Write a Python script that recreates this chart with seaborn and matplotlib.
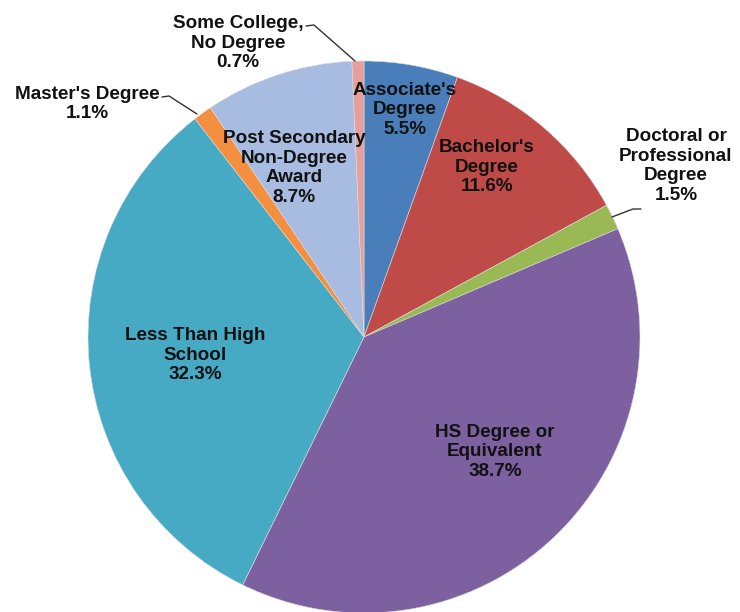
import matplotlib
matplotlib.use("Agg")
import matplotlib.pyplot as plt
import seaborn as sns

sns.set_theme(style="white")
plt.rcParams['font.family'] = ['Liberation Sans', 'DejaVu Sans']

# Data (clockwise from 12 o'clock)
categories = ["Associate's\nDegree", "Bachelor's\nDegree", "Doctoral or\nProfessional\nDegree",
              "HS Degree or\nEquivalent", "Less Than High\nSchool", "Master's Degree",
              "Post Secondary\nNon-Degree\nAward", "Some College,\nNo Degree"]
shares = [5.5, 11.6, 1.5, 38.7, 32.3, 1.1, 8.7, 0.7]
colors = ["#4A7EBB", "#BE4B48", "#98B954", "#7D60A0", "#46AAC5", "#F38F3F", "#A8BBE0", "#E5A09E"]

W, H = 740, 612
fig = plt.figure(figsize=(W / 100, H / 100), dpi=100)
ax = fig.add_axes([0, 0, 1, 1])

cx, cy, r = 364, H - 337, 276
ax.pie(shares, colors=colors, startangle=90, counterclock=False,
       center=(cx, cy), radius=r, frame=True,
       wedgeprops=dict(linewidth=0.4, edgecolor='#dddddd'))
ax.set_xlim(0, W)
ax.set_ylim(0, H)
ax.set_aspect('equal')
ax.axis('off')

# label positions in pixel coords (x, y from top)
label_pos = [(405, 110), (487, 167), (676, 166), (495, 452), (195, 355),
             (87, 104), (238, 43), (238, 43)]
label_pos[6] = (294, 168)
for cat, val, (lx, ly) in zip(categories, shares, label_pos):
    ax.text(lx, H - ly, f"{cat}\n{val:.1f}%", ha='center', va='center', fontsize=13.6,
            fontweight='bold', linespacing=1.18, color='#111111')

# leader lines
leaders = [((306, 26), (314, 25), (355, 61)),
           ((162, 97), (169, 96), (197, 114)),
           ((641, 209), (633, 209), (612, 217))]
for pts in leaders:
    xs = [p[0] for p in pts]
    ys = [H - p[1] for p in pts]
    ax.plot(xs, ys, color='#333333', linewidth=1)

fig.savefig("out.png", dpi=100)
